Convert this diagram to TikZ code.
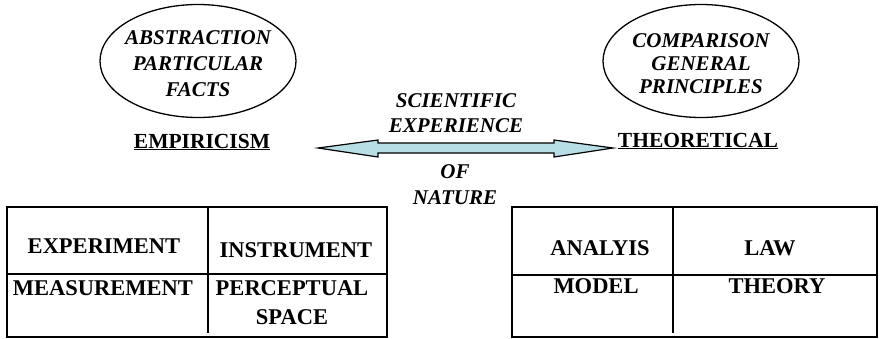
\documentclass[tikz,border=0pt]{standalone}
\usepackage{fontspec}
\setmainfont{Liberation Serif}
\usetikzlibrary{shapes.geometric}
\definecolor{arrowfill}{RGB}{183,222,228}

\begin{document}
\begin{tikzpicture}
[%%%%%%%%%%%%%%%%%%%%%%%%%%%%%%
x=1pt,y=-1pt,
oval/.style={ellipse,draw=black,line width=1.3pt,minimum width=196pt,minimum height=113pt,inner sep=0pt},
idea/.style={align=center,font=\fontsize{21}{25}\selectfont\bfseries\itshape},
head/.style={anchor=base,font=\fontsize{21.5}{24}\selectfont\bfseries},
cell/.style={anchor=base,align=center,font=\fontsize{22.5}{29}\selectfont\bfseries},
frame/.style={draw=black,line width=1.6pt},
]%%%%%%%%%%%%%%%%%%%%%%%%%%%%%%

\useasboundingbox (0,0) rectangle (880,338);

% the two ovals
\node[oval] (leftoval) at (198,61) {};
\node[oval] (rightoval) at (701,61) {};
\node[idea,font=\fontsize{21}{26}\selectfont\bfseries\itshape] (abstraction) at (198,64) {ABSTRACTION\\PARTICULAR\\FACTS};
\node[idea,font=\fontsize{21}{23}\selectfont\bfseries\itshape] (comparison) at (701,64) {COMPARISON\\GENERAL\\PRINCIPLES};

\node[head] (empiricism) at (202,148) {\underline{EMPIRICISM}};
\node[head] (theoretical) at (698,147) {\underline{THEORETICAL}};

% double arrow
\coordinate (tipL) at (318,148);
\coordinate (tipR) at (613,148);
\filldraw[fill=arrowfill,draw=black,line width=1.2pt]
  (tipL) -- (378,140) -- (378,143) -- (554,143) -- (554,140) -- (tipR)
  -- (554,157) -- (554,153) -- (378,153) -- (378,157) -- cycle;

\node[idea] (experience) at (456,113) {SCIENTIFIC\\EXPERIENCE};
\node[idea,font=\fontsize{21}{26}\selectfont\bfseries\itshape] (nature) at (455,185) {OF\\NATURE};

% left table
\draw[frame] (7,207) rectangle (387,337);
\draw[frame] (7,274) -- (387,274);
\draw[frame] (208,207) -- (208,333);
\node[cell] (experiment) at (104,253) {EXPERIMENT};
\node[cell] (instrument) at (296,257) {INSTRUMENT};
\node[cell] (measurement) at (103,295) {MEASUREMENT};
\node[cell,anchor=center] (perceptual) at (292,303) {PERCEPTUAL\\SPACE};

% right table
\draw[frame] (512,207) rectangle (877,337);
\draw[frame] (512,275) -- (877,275);
\draw[frame] (673,207) -- (673,333);
\node[cell] (analyis) at (600,255) {ANALYIS};
\node[cell] (law) at (770,255) {LAW};
\node[cell] (model) at (596,293) {MODEL};
\node[cell] (theory) at (777,293) {THEORY};
\end{tikzpicture}
\end{document}
